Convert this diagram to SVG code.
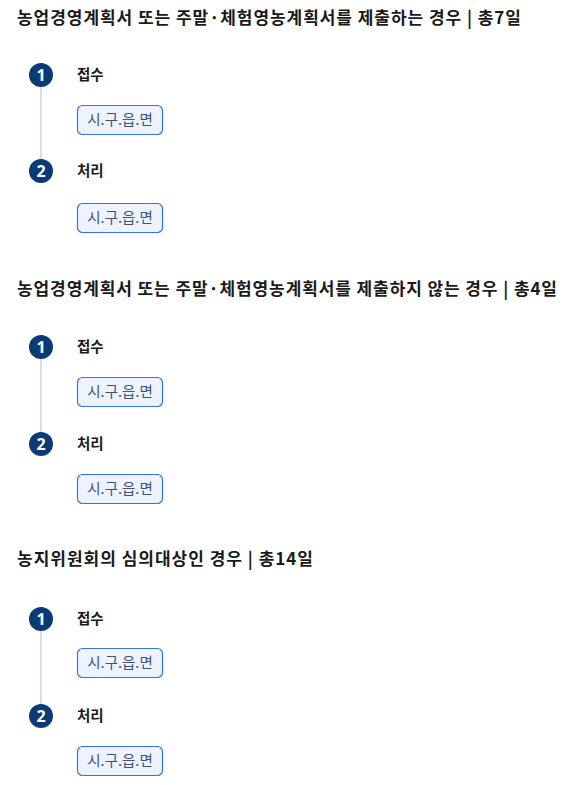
<svg xmlns="http://www.w3.org/2000/svg" width="574" height="785" viewBox="0 0 574 785">
<style>
.title{font-family:"Noto Sans CJK KR","Noto Sans",sans-serif;font-size:17px;font-weight:700;fill:#1a1a1a}
.step{font-family:"Noto Sans CJK KR","Noto Sans",sans-serif;font-size:14.5px;font-weight:700;fill:#1a1a1a}
.num{font-family:"Noto Sans","Noto Sans CJK KR",sans-serif;font-size:16px;font-weight:700;fill:#ffffff}
.circ{fill:#0a3a78}
.box{fill:#edf4ff;stroke:#3674e4;stroke-width:1.2}
.boxt{font-family:"Noto Sans CJK KR","Noto Sans",sans-serif;font-size:14.5px;fill:#3b5183}
.line{stroke:#b8c0cc;stroke-width:1}
</style>
<rect width="574" height="785" fill="#ffffff"/>
<g id="connectors">
<line class="line" x1="41" y1="75" x2="41" y2="171"/>
<line class="line" x1="41" y1="347" x2="41" y2="444"/>
<line class="line" x1="41" y1="619" x2="41" y2="716"/>
</g>
<g id="section1">
<text class="title" x="17" y="24" textLength="504" lengthAdjust="spacing">농업경영계획서 또는 주말·체험영농계획서를 제출하는 경우 | 총7일</text>
<g id="s1-step1"><circle class="circ" cx="41" cy="75" r="12"/><text class="num" x="41" y="80.5" text-anchor="middle">1</text><text class="step" x="77" y="80">접수</text></g>
<g id="s1-box1"><rect class="box" x="77.5" y="105.5" width="85" height="29" rx="5"/><text class="boxt" x="120" y="125" text-anchor="middle">시.구.읍.면</text></g>
<g id="s1-step2"><circle class="circ" cx="41" cy="171" r="12"/><text class="num" x="41" y="176.5" text-anchor="middle">2</text><text class="step" x="77" y="176">처리</text></g>
<g id="s1-box2"><rect class="box" x="77.5" y="203.5" width="85" height="29" rx="5"/><text class="boxt" x="120" y="223" text-anchor="middle">시.구.읍.면</text></g>
</g>
<g id="section2">
<text class="title" x="17" y="295" textLength="540" lengthAdjust="spacing">농업경영계획서 또는 주말·체험영농계획서를 제출하지 않는 경우 | 총4일</text>
<g id="s2-step1"><circle class="circ" cx="41" cy="347" r="12"/><text class="num" x="41" y="352.5" text-anchor="middle">1</text><text class="step" x="77" y="352">접수</text></g>
<g id="s2-box1"><rect class="box" x="77.5" y="377.5" width="85" height="29" rx="5"/><text class="boxt" x="120" y="397" text-anchor="middle">시.구.읍.면</text></g>
<g id="s2-step2"><circle class="circ" cx="41" cy="444" r="12"/><text class="num" x="41" y="449.5" text-anchor="middle">2</text><text class="step" x="77" y="449">처리</text></g>
<g id="s2-box2"><rect class="box" x="77.5" y="474.5" width="85" height="29" rx="5"/><text class="boxt" x="120" y="494" text-anchor="middle">시.구.읍.면</text></g>
</g>
<g id="section3">
<text class="title" x="17" y="565" textLength="296" lengthAdjust="spacing">농지위원회의 심의대상인 경우 | 총14일</text>
<g id="s3-step1"><circle class="circ" cx="41" cy="619" r="12"/><text class="num" x="41" y="624.5" text-anchor="middle">1</text><text class="step" x="77" y="624">접수</text></g>
<g id="s3-box1"><rect class="box" x="77.5" y="648.5" width="85" height="29" rx="5"/><text class="boxt" x="120" y="668" text-anchor="middle">시.구.읍.면</text></g>
<g id="s3-step2"><circle class="circ" cx="41" cy="716" r="12"/><text class="num" x="41" y="721.5" text-anchor="middle">2</text><text class="step" x="77" y="721">처리</text></g>
<g id="s3-box2"><rect class="box" x="77.5" y="746.5" width="85" height="29" rx="5"/><text class="boxt" x="120" y="766" text-anchor="middle">시.구.읍.면</text></g>
</g>
</svg>
